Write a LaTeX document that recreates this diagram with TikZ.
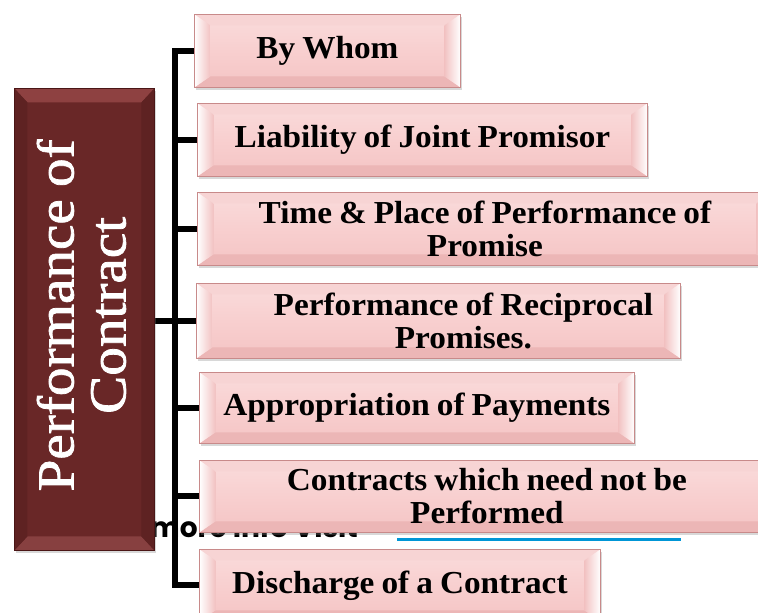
\documentclass[tikz,border=0pt]{standalone}
\usepackage{fontspec}
\usetikzlibrary{shadows,backgrounds}
\newfontfamily\boxfont[FakeStretch=1.04,WordSpace=0.85]{Liberation Serif}
\newfontfamily\bigserif[FakeStretch=1.1,FakeBold=1.5,WordSpace=0.85]{Liberation Serif}
\newfontfamily\notefont{Poppins}
\definecolor{facemid}{HTML}{F8CFCF}
\definecolor{facetop}{HTML}{FADCDC}
\definecolor{facebot}{HTML}{F4C4C4}
\definecolor{bevtop}{HTML}{F7D4D4}
\definecolor{bevbot}{HTML}{ECB6B6}
\definecolor{bevside}{HTML}{F2C2C2}
\definecolor{boxedge}{HTML}{C88A8A}
\definecolor{maroon}{HTML}{692727}
\definecolor{maroontop}{HTML}{8E4141}
\definecolor{maroonbot}{HTML}{874040}
\definecolor{maroonside}{HTML}{5E2222}
\definecolor{maroonedge}{HTML}{4A1616}
\definecolor{linkblue}{HTML}{0096D6}
\tikzset{
  conn/.style={line width=6pt, black},
  bevelpink/.style={path picture={
    \fill[bevtop] (path picture bounding box.north west) -- (path picture bounding box.north east)
      -- ([xshift=-16pt,yshift=-11pt]path picture bounding box.north east)
      -- ([xshift=16pt,yshift=-11pt]path picture bounding box.north west) -- cycle;
    \fill[bevbot] (path picture bounding box.south west) -- (path picture bounding box.south east)
      -- ([xshift=-16pt,yshift=11pt]path picture bounding box.south east)
      -- ([xshift=16pt,yshift=11pt]path picture bounding box.south west) -- cycle;
    \shade[left color=white, right color=bevside] (path picture bounding box.north west)
      -- ([xshift=16pt,yshift=-11pt]path picture bounding box.north west)
      -- ([xshift=16pt,yshift=11pt]path picture bounding box.south west)
      -- (path picture bounding box.south west) -- cycle;
    \shade[left color=bevside, right color=white] (path picture bounding box.north east)
      -- ([xshift=-16pt,yshift=-11pt]path picture bounding box.north east)
      -- ([xshift=-16pt,yshift=11pt]path picture bounding box.south east)
      -- (path picture bounding box.south east) -- cycle;
  }},
  pinkbox/.style={draw=boxedge, line width=0.8pt, top color=facetop, bottom color=facebot,
    middle color=facemid, inner sep=0pt, anchor=north west, align=center,
    drop shadow={shadow xshift=1.5pt, shadow yshift=-3pt, opacity=0.3},
    bevelpink, font=\boxfont\bfseries\fontsize{32pt}{33pt}\selectfont},
  boxtext/.style={align=center, inner sep=0pt, font=\boxfont\bfseries\fontsize{32pt}{33pt}\selectfont},
  mainbox/.style={draw=maroonedge, line width=0.8pt, fill=maroon, inner sep=0pt, anchor=north west,
    drop shadow={shadow xshift=1.5pt, shadow yshift=-3pt, opacity=0.3},
    path picture={
    \fill[maroontop] (path picture bounding box.north west) -- (path picture bounding box.north east)
      -- ([xshift=-13pt,yshift=-14pt]path picture bounding box.north east)
      -- ([xshift=13pt,yshift=-14pt]path picture bounding box.north west) -- cycle;
    \fill[maroonbot] (path picture bounding box.south west) -- (path picture bounding box.south east)
      -- ([xshift=-13pt,yshift=14pt]path picture bounding box.south east)
      -- ([xshift=13pt,yshift=14pt]path picture bounding box.south west) -- cycle;
    \fill[maroonside] (path picture bounding box.north west)
      -- ([xshift=13pt,yshift=-14pt]path picture bounding box.north west)
      -- ([xshift=13pt,yshift=14pt]path picture bounding box.south west)
      -- (path picture bounding box.south west) -- cycle;
    \fill[maroonside] (path picture bounding box.north east)
      -- ([xshift=-13pt,yshift=-14pt]path picture bounding box.north east)
      -- ([xshift=-13pt,yshift=14pt]path picture bounding box.south east)
      -- (path picture bounding box.south east) -- cycle;
  }},
  maintext/.style={rotate=90, text=white, align=center, inner sep=0pt,
    font=\bigserif\fontsize{52pt}{52pt}\selectfont}
}
\begin{document}
\begin{tikzpicture}[x=1pt,y=-1pt]
\useasboundingbox (0,0) rectangle (758,613);
\clip (0,0) rectangle (758,613);
\coordinate (tk) at (175,0);
% main box
\node[mainbox, minimum width=140pt, minimum height=462pt] (main) at (14,88) {};
\node[maintext] (maint) at ([xshift=-3pt,yshift=4pt]main.center) {Performance of\\Contract};
% child boxes
\node[pinkbox, minimum width=266pt, minimum height=73pt] (b1) at (194,14) {By Whom};
\node[pinkbox, minimum width=450pt, minimum height=73pt] (b2) at (197,103) {Liability of Joint Promisor};
\node[pinkbox, minimum width=575pt, minimum height=73pt] (b3) at (197,192) {Time \& Place of Performance of\\Promise};
\node[pinkbox, minimum width=484pt, minimum height=75pt] (b4) at (196,283) {};
\node[boxtext] (b4t) at ([xshift=25pt]b4.center) {Performance of Reciprocal\\Promises.};
\node[pinkbox, minimum width=435pt, minimum height=71pt] (b5) at (199,372) {Appropriation of Payments};
\node[pinkbox, minimum width=575pt, minimum height=72pt] (b6) at (199,460) {Contracts which need not be\\Performed};
\node[pinkbox, minimum width=401pt, minimum height=72pt] (b7) at (199,549) {Discharge of a Contract};
\begin{scope}[on background layer]
  \fill[white] (0,0) rectangle (758,613);
  % partly hidden note
  \node[anchor=base west, inner sep=0pt, font=\notefont\bfseries\fontsize{28pt}{28pt}\selectfont] (note) at (150,537) {more info Visit};
  \coordinate (u1) at (397,539);
  \coordinate (u2) at (681,539);
  \draw[linkblue, line width=3pt] (u1) -- (u2);
  % connectors
  \draw[conn] (b1.west) -- (b1.west -| tk) -- (b7.west -| tk) -- (b7.west);
  \draw[conn] (b2.west -| tk) -- (b2.west);
  \draw[conn] (b3.west -| tk) -- (b3.west);
  \draw[conn] (main.east |- b4.west) -- (b4.west);
  \draw[conn] (b5.west -| tk) -- (b5.west);
  \draw[conn] (b6.west -| tk) -- (b6.west);
\end{scope}
\end{tikzpicture}
\end{document}
